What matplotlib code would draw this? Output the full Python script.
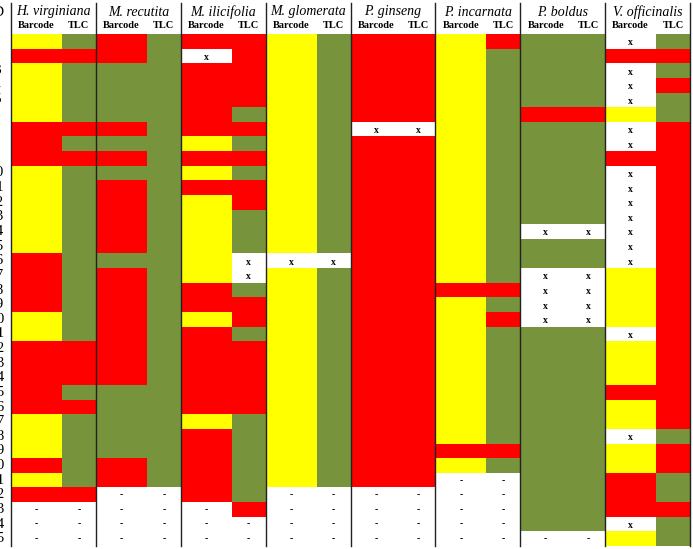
import numpy as np
import matplotlib.pyplot as plt
import matplotlib.transforms as mtransforms
from matplotlib.colors import ListedColormap

# Y = yellow, R = red, G = green, X = not tested ("x"), - = no sample
species = ['H. virginiana', 'M. recutita', 'M. ilicifolia', 'M. glomerata',
           'P. ginseng', 'P. incarnata', 'P. boldus', 'V. officinalis']
barcode = [
    'YRYYYYRRRYYYYYYRRRRYYRRRRRYYYRYR---',
    'RRGGGGRGRGRRRRRGRRRRRRRRGGGGGRR----',
    'RXRRRRRYRYRYYYYYYRRYRRRRRRYRRRRR--',
    'YYYYYYYYYYYYYYYXYYYYYYYYYYYYYYY----',
    'RRRRRRXRRRRRRRRRRRRRRRRRRRRRRRR----',
    'YYYYYYYYYYYYYYYYYRYYYYYYYYYYRY-----',
    'GGGGGRGGGGGGGXGGXXXXGGGGGGGGGGGGGG-',
    'XRXXXYXXRXXXXXXXYYYYXYYYRYYXYYRRRXY',
]
tlc = [
    'GRGGGGRGRGGGGGGGGGGGGRRRGRGGGGGR---',
    'GGGGGGGGGGGGGGGGGGGGGGGGGGGGGGG----',
    'RRRRRGRGRGRRGGGXXGRRGRRRRRGGGGGGR--',
    'GGGGGGGGGGGGGGGXGGGGGGGGGGGGGGG----',
    'RRRRRRXRRRRRRRRRRRRRRRRRRRRRRRR----',
    'RGGGGGGGGGGGGGGGGRGRGGGGGGGGRG-----',
    'GGGGGRGGGGGGGXGGXXXXGGGGGGGGGGGGGG-',
    'GRGRGGRRRRRRRRRRRRRRRRRRRRRGRRGGRGG',
]
n_rows = 35
row_ids = list(range(1, n_rows + 1))

codes = {'Y': 0, 'R': 1, 'G': 2, 'X': 3, '-': 3}
cmap = ListedColormap(['#FFFF00', '#FF0000', '#77933C', '#FFFFFF'])
split = 0.6

fig = plt.figure(figsize=(6.93, 5.49), dpi=100)
W, H = 693, 549
ax = fig.add_axes([11 / W, 1 - 546 / H, 679 / W, 512 / H])

cols = []
x_edges = [0]
for k in range(len(species)):
    cols.append(barcode[k].ljust(n_rows, '-')[:n_rows])
    cols.append(tlc[k].ljust(n_rows, '-')[:n_rows])
    x_edges += [k + split, k + 1]
grid = np.array([[codes[c] for c in col] for col in cols]).T
y_edges = np.arange(n_rows + 1) + 0.5

ax.pcolormesh(x_edges, y_edges, grid, cmap=cmap, vmin=-0.5, vmax=3.5)
ax.set_xlim(0, len(species))
ax.set_ylim(n_rows + 0.5, 0.5)
ax.axis('off')

serif = 'Liberation Serif'
centers = [(x_edges[i] + x_edges[i + 1]) / 2 for i in range(len(x_edges) - 1)]
for j, col in enumerate(cols):
    for i, c in enumerate(col):
        if c == 'X':
            ax.text(centers[j], row_ids[i] + 0.1, 'x', ha='center', va='center',
                    fontsize=7, fontweight='bold', family=serif)
        elif c == '-':
            ax.text(centers[j], row_ids[i], '-', ha='center', va='center',
                    fontsize=7, fontweight='bold', family=serif)

# header
for k, name in enumerate(species):
    ax.text(k + 0.5, 1 + 22 / 512, name, transform=ax.get_xaxis_transform(),
            ha='center', va='center', fontsize=10, style='italic', family=serif)
    ax.text(k + split / 2, 1 + 8 / 512, 'Barcode', transform=ax.get_xaxis_transform(),
            ha='center', va='center', fontsize=7.5, fontweight='bold', family=serif)
    ax.text(k + (1 + split) / 2, 1 + 8 / 512, 'TLC', transform=ax.get_xaxis_transform(),
            ha='center', va='center', fontsize=7.5, fontweight='bold', family=serif)

for k in range(len(species) + 1):
    ax.axvline(k, ymin=0, ymax=1 + 31 / 512, color='#222222', lw=1, clip_on=False)

# row ids, mostly cut off by the left edge as in the source figure
trans = mtransforms.blended_transform_factory(fig.transFigure, ax.transData)
for r in row_ids:
    fig.text(-3.5 / W, r, str(r), transform=trans, ha='center', va='center',
             fontsize=11, family=serif)
fig.text(-3.5 / W, 1 - 13 / H, 'ID', ha='center', va='center', fontsize=11, family=serif)

fig.savefig('out.png', dpi=100)
